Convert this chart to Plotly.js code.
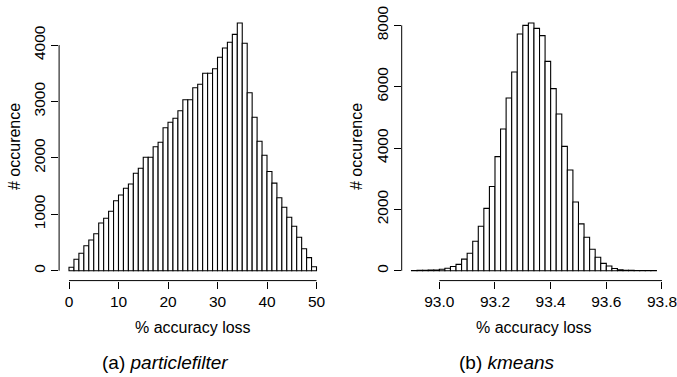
<!DOCTYPE html>
<html>
<head>
<meta charset="utf-8">
<script src="https://cdn.plot.ly/plotly-3.0.1.min.js"></script>
<style>html,body{margin:0;padding:0;background:#fff}#chart{width:677px;height:377px}</style>
</head>
<body>
<div id="chart"></div>
<script>
// ---- data: (a) particlefilter ----
const pfBinStart = 0;      // first bin edge
const pfBinWidth = 1;      // bin width
const pfCounts = [60, 202, 308, 443, 544, 656, 846, 929, 1053, 1241,
                  1342, 1461, 1537, 1727, 1816, 2011, 2011, 2199, 2277, 2536,
                  2631, 2702, 2837, 3032, 3032, 3245, 3305, 3500, 3500, 3582,
                  3784, 3949, 4050, 4191, 4392, 4032, 3156, 2720, 2294, 2048,
                  1758, 1552, 1294, 1124, 947, 787, 592, 390, 231, 71];
const pfXTicks = [0, 10, 20, 30, 40, 50];
const pfYTicks = [0, 1000, 2000, 3000, 4000];

// ---- data: (b) kmeans ----
const kmBinStart = 92.90;
const kmBinWidth = 0.02;
const kmCounts = [8, 10, 12, 18, 25, 45, 80, 135, 205, 377,
                  568, 962, 1451, 2033, 2743, 3720, 4620, 5630, 6478, 7717,
                  8000, 8076, 7902, 7663, 6826, 5935, 5109, 4054, 3285, 2242,
                  1527, 1088, 700, 438, 240, 153, 70, 33, 15, 10,
                  8, 6, 5, 3];
const kmXTicks = [93.0, 93.2, 93.4, 93.6, 93.8];
const kmXTickText = ["93.0", "93.2", "93.4", "93.6", "93.8"];
const kmYTicks = [0, 2000, 4000, 6000, 8000];

const xTitle = "% accuracy loss";
const yTitle = "# occurence";
const captions = ["(a) <i>particlefilter</i>", "(b) <i>kmeans</i>"];

// ---- helpers ----
const W = 677, H = 377;
const FONT = "Liberation Sans, Arial, Helvetica, sans-serif";
function centers(start, w, n) { const a = []; for (let i = 0; i < n; i++) a.push(+(start + w * (i + 0.5)).toFixed(6)); return a; }
function rExtend(lo, hi) { const d = (hi - lo) * 0.04; return [lo - d, hi + d]; }
const px = x => x / W, py = y => (H - y) / H;

const pfX = centers(pfBinStart, pfBinWidth, pfCounts.length);
const kmX = centers(kmBinStart, kmBinWidth, kmCounts.length);
const pfXR = rExtend(pfBinStart, pfBinStart + pfBinWidth * pfCounts.length);
const kmXR = rExtend(kmBinStart, kmBinStart + kmBinWidth * kmCounts.length);
const pfYR = rExtend(0, Math.max(...pfCounts));
const kmYR = rExtend(0, Math.max(...kmCounts));

const barStyle = {color: "#ffffff", line: {color: "#000000", width: 1.1}};
const traces = [
  {type: "bar", x: pfX, y: pfCounts, width: pfBinWidth, marker: barStyle, xaxis: "x", yaxis: "y", hoverinfo: "x+y"},
  {type: "bar", x: kmX, y: kmCounts, width: kmBinWidth, marker: barStyle, xaxis: "x2", yaxis: "y2", hoverinfo: "x+y"}
];

const yDom = [py(280.6), py(13.1)];
const axBase = {showgrid: false, zeroline: false, showline: false, ticks: "outside", ticklen: 7, tickwidth: 1,
                tickcolor: "#000", tickfont: {family: FONT, size: 15.5, color: "#000"}, fixedrange: true,
                ticklabeloverflow: "allow"};

function ann(text, x, y, size, angle) {
  return {text: text, xref: "paper", yref: "paper", x: px(x), y: py(y), xanchor: "center", yanchor: "middle",
          textangle: angle || 0, showarrow: false, font: {size: size, family: FONT, color: "#000"}};
}

const layout = {
  width: W, height: H, margin: {l: 0, r: 0, t: 0, b: 0},
  paper_bgcolor: "#fff", plot_bgcolor: "#fff", showlegend: false, bargap: 0,
  font: {family: FONT, color: "#000"},
  xaxis: Object.assign({}, axBase, {domain: [px(59.1), px(326.4)], range: pfXR, tickmode: "array", tickvals: pfXTicks, anchor: "y"}),
  yaxis: Object.assign({}, axBase, {domain: yDom, range: pfYR, tickmode: "array", tickvals: pfYTicks, tickangle: -90, anchor: "x"}),
  xaxis2: Object.assign({}, axBase, {domain: [px(401.7), px(666.2)], range: kmXR, tickmode: "array", tickvals: kmXTicks, ticktext: kmXTickText, anchor: "y2"}),
  yaxis2: Object.assign({}, axBase, {domain: yDom, range: kmYR, tickmode: "array", tickvals: kmYTicks, tickangle: -90, anchor: "x2"}),
  shapes: [
    {type: "line", xref: "x", yref: "y domain", x0: pfXTicks[0], x1: pfXTicks[pfXTicks.length - 1], y0: 0, y1: 0, line: {color: "#000", width: 1}},
    {type: "line", xref: "x domain", yref: "y", x0: 0, x1: 0, y0: pfYTicks[0], y1: pfYTicks[pfYTicks.length - 1], line: {color: "#000", width: 1}},
    {type: "line", xref: "x2", yref: "y2 domain", x0: kmXTicks[0], x1: kmXTicks[kmXTicks.length - 1], y0: 0, y1: 0, line: {color: "#000", width: 1}},
    {type: "line", xref: "x2 domain", yref: "y2", x0: 0, x1: 0, y0: kmYTicks[0], y1: kmYTicks[kmYTicks.length - 1], line: {color: "#000", width: 1}}
  ],
  annotations: [
    ann(xTitle, 192.7, 327, 16),
    ann(xTitle, 534, 327, 16),
    ann(yTitle, 15, 147, 16, -90),
    ann(yTitle, 357, 147, 16, -90),
    ann(captions[0], 165, 362, 19),
    ann(captions[1], 507, 362, 19)
  ]
};

Plotly.newPlot("chart", traces, layout, {displayModeBar: false, staticPlot: true});
</script>
</body>
</html>
